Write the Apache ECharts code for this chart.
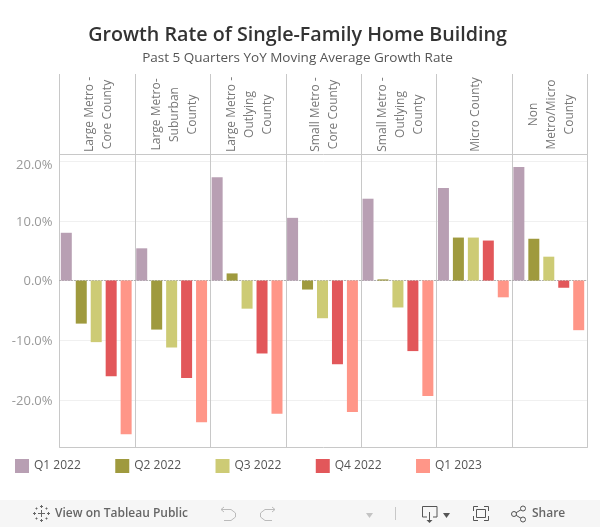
<!DOCTYPE html>
<html>
<head>
<meta charset="utf-8">
<style>html,body{margin:0;padding:0;background:#fff}#chart{width:600px;height:527px}</style>
</head>
<body>
<div id="chart"></div>
<script src="https://cdn.jsdelivr.net/npm/echarts@6/dist/echarts.min.js"></script>
<script>
const chart = echarts.init(document.getElementById('chart'));

const categories = [
  'Large Metro -\nCore County',
  'Large Metro-\nSuburban\nCounty',
  'Large Metro -\nOutlying\nCounty',
  'Small Metro -\nCore County',
  'Small Metro -\nOutlying\nCounty',
  'Micro County',
  'Non\nMetro/Micro\nCounty'
];
const q12022 = [8.0, 5.4, 17.3, 10.5, 13.7, 15.5, 19.0];
const q22022 = [-7.2, -8.2, 1.2, -1.5, 0.2, 7.2, 7.0];
const q32022 = [-10.3, -11.2, -4.7, -6.3, -4.5, 7.2, 4.0];
const q42022 = [-16.0, -16.3, -12.2, -14.0, -11.8, 6.7, -1.2];
const q12023 = [-25.7, -23.7, -22.3, -22.0, -19.3, -2.8, -8.3];
const yTicks = [-20, -10, 0, 10, 20];
const yMin = -27.85;
const yMax = 21.1;

const FONT = '"Open Sans", sans-serif';
const LINE = '#c8c8c8';

// bars live in their own grid, 1px left of the frame, so they sit off centre like the original
function bar(name, data, color) {
  return {
    name: name, type: 'bar', data: data, xAxisIndex: 3, yAxisIndex: 2,
    barWidth: 11, barGap: '36%', itemStyle: { color: color }
  };
}

// toolbar icons, all plain strokes
function stroke(shape, color, type) {
  return { type: type || 'polyline', shape: shape, style: { stroke: color, fill: null, lineWidth: 1 }, silent: true };
}
function tri(x, y, w, h, color) {
  return { type: 'polygon', shape: { points: [[x, y], [x + w, y], [x + w / 2, y + h]] }, style: { fill: color }, silent: true };
}
function cross(cx, cy, r) {
  return [
    stroke({ x1: cx - r, y1: cy, x2: cx + r, y2: cy }, '#666', 'line'),
    stroke({ x1: cx, y1: cy - r, x2: cx, y2: cy + r }, '#666', 'line')
  ];
}
const toolbar = [
  { type: 'rect', shape: { x: 0, y: 500, width: 600, height: 27 }, style: { fill: '#f6f6f6' }, silent: true },
  // tableau mark
  ...cross(41.5, 513.5, 3.5),
  ...cross(41.5, 506.5, 1.5), ...cross(41.5, 520.5, 1.5),
  ...cross(34.5, 513.5, 1.5), ...cross(48.5, 513.5, 1.5),
  ...cross(36.5, 508.5, 1), ...cross(46.5, 508.5, 1),
  ...cross(36.5, 518.5, 1), ...cross(46.5, 518.5, 1),
  // undo, redo
  stroke({ points: [[224, 507], [221, 509.5], [224, 512]] }, '#bbb'),
  stroke({ points: [[221, 509.5], [231, 509.5], [235.5, 513], [235.5, 517], [231, 520.5], [224, 520.5]] }, '#bbb'),
  stroke({ points: [[272, 507], [275, 509.5], [272, 512]] }, '#bbb'),
  stroke({ points: [[275, 509.5], [265, 509.5], [260.5, 513], [260.5, 517], [265, 520.5], [272, 520.5]] }, '#bbb'),
  tri(366, 513, 7, 5, '#c4c4c4'),
  stroke({ x1: 395.5, y1: 507, x2: 395.5, y2: 520 }, '#c8c8c8', 'line'),
  // download
  stroke({ points: [[427, 517], [422.5, 517], [422.5, 506.5], [437, 506.5], [437, 517], [433, 517]] }, '#555'),
  stroke({ x1: 429.5, y1: 512, x2: 429.5, y2: 520 }, '#555', 'line'),
  tri(426.5, 520, 6, 3, '#555'),
  tri(443, 513, 7, 5, '#555'),
  // fullscreen
  stroke({ points: [[473.5, 511], [473.5, 506.5], [478, 506.5]] }, '#555'),
  stroke({ points: [[484, 506.5], [488.5, 506.5], [488.5, 511]] }, '#555'),
  stroke({ points: [[473.5, 516], [473.5, 520.5], [478, 520.5]] }, '#555'),
  stroke({ points: [[484, 520.5], [488.5, 520.5], [488.5, 516]] }, '#555'),
  { type: 'rect', shape: { x: 476.5, y: 509.5, width: 9, height: 8 }, style: { stroke: '#555', fill: null }, silent: true },
  // share
  stroke({ points: [[523, 508.5], [514, 514], [523, 519.5]] }, '#555'),
  { type: 'circle', shape: { cx: 523, cy: 508.5, r: 2.5 }, style: { stroke: '#555', fill: '#f6f6f6' }, silent: true },
  { type: 'circle', shape: { cx: 514, cy: 514, r: 2.5 }, style: { stroke: '#555', fill: '#f6f6f6' }, silent: true },
  { type: 'circle', shape: { cx: 523, cy: 519.5, r: 2.5 }, style: { stroke: '#555', fill: '#f6f6f6' }, silent: true },
  { type: 'text', x: 55, y: 513.5, style: { text: 'View on Tableau Public', fontFamily: FONT, fontSize: 12, fontWeight: 600, fill: '#666', verticalAlign: 'middle' }, silent: true },
  { type: 'text', x: 532, y: 513.5, style: { text: 'Share', fontFamily: FONT, fontSize: 12, fontWeight: 600, fill: '#666', verticalAlign: 'middle' }, silent: true }
];

const option = {
  animation: false,
  backgroundColor: '#fff',
  title: {
    text: 'Growth Rate of Single-Family Home Building',
    subtext: 'Past 5 Quarters YoY Moving Average Growth Rate',
    left: 292.5,
    top: 20,
    textAlign: 'center',
    itemGap: 6,
    textStyle: { fontFamily: FONT, fontSize: 19.7, fontWeight: 600, color: '#333' },
    subtextStyle: { fontFamily: FONT, fontSize: 13.5, color: '#555' }
  },
  legend: {
    left: 15,
    top: 459,
    padding: 0,
    icon: 'rect',
    itemWidth: 14,
    itemHeight: 14,
    itemGap: 34.5,
    selectedMode: false,
    textStyle: { fontFamily: FONT, fontSize: 12, color: '#555' }
  },
  grid: [
    { left: 59.5, top: 154.5, width: 528, height: 292.5 },
    { left: 59.5, top: 74, width: 528, height: 80.5 },
    { left: 58.5, top: 154.5, width: 528, height: 292.5 },
    { left: 61, top: 74, width: 528, height: 80.5 }
  ],
  xAxis: [
    {
      // bottom edge and the panel dividers
      type: 'category', gridIndex: 0, data: categories, position: 'bottom',
      axisLine: { onZero: false, lineStyle: { color: LINE } },
      axisTick: { show: false }, axisLabel: { show: false },
      splitLine: { show: true, interval: 0, lineStyle: { color: LINE } }
    },
    {
      // dotted zero line
      type: 'category', gridIndex: 0, data: categories, position: 'top',
      axisLine: { onZero: true, lineStyle: { color: '#aaa', type: [1, 2] } },
      axisTick: { show: false }, axisLabel: { show: false }, splitLine: { show: false }
    },
    {
      // header row frame
      type: 'category', gridIndex: 1, data: categories, position: 'bottom',
      axisLine: { lineStyle: { color: LINE } },
      axisTick: { show: false }, axisLabel: { show: false },
      splitLine: { show: true, interval: 0, lineStyle: { color: LINE } }
    },
    { type: 'category', gridIndex: 2, data: categories, show: false },
    {
      // rotated names, nudged right of the frame
      type: 'category', gridIndex: 3, data: categories, position: 'bottom',
      axisLine: { show: false }, axisTick: { show: false }, splitLine: { show: false },
      axisLabel: {
        inside: true, rotate: 90, margin: 40, interval: 0, align: 'center', verticalAlign: 'middle',
        fontFamily: FONT, fontSize: 12, lineHeight: 18, color: '#777'
      }
    }
  ],
  yAxis: [
    {
      type: 'value', gridIndex: 0, min: yMin, max: yMax,
      axisLine: { show: false },
      axisTick: { show: false, customValues: yTicks },
      axisLabel: {
        customValues: yTicks, margin: 7, fontFamily: FONT, fontSize: 13, color: '#999',
        // labels sit just under their gridlines, the top one more so
        formatter: function (v) {
          const s = v.toFixed(1) + '%';
          return v === 20 ? '{top|' + s + '}' : '{low|' + s + '}';
        },
        rich: {
          low: { padding: [2, 0, 0, 0], fontFamily: FONT, fontSize: 13, color: '#999' },
          top: { padding: [8, 0, 0, 0], fontFamily: FONT, fontSize: 13, color: '#999' }
        }
      },
      splitLine: { show: true, lineStyle: { color: '#f0f0f0' } }
    },
    { type: 'value', gridIndex: 1, min: 0, max: 1, show: false },
    { type: 'value', gridIndex: 2, min: yMin, max: yMax, show: false },
    { type: 'value', gridIndex: 3, min: 0, max: 1, show: false }
  ],
  series: [
    bar('Q1 2022', q12022, '#b89fb3'),
    bar('Q2 2022', q22022, '#9f9a3e'),
    bar('Q3 2022', q32022, '#cdcb75'),
    bar('Q4 2022', q42022, '#e2575a'),
    bar('Q1 2023', q12023, '#ff9688')
  ],
  graphic: toolbar
};

chart.setOption(option);
</script>
</body>
</html>
